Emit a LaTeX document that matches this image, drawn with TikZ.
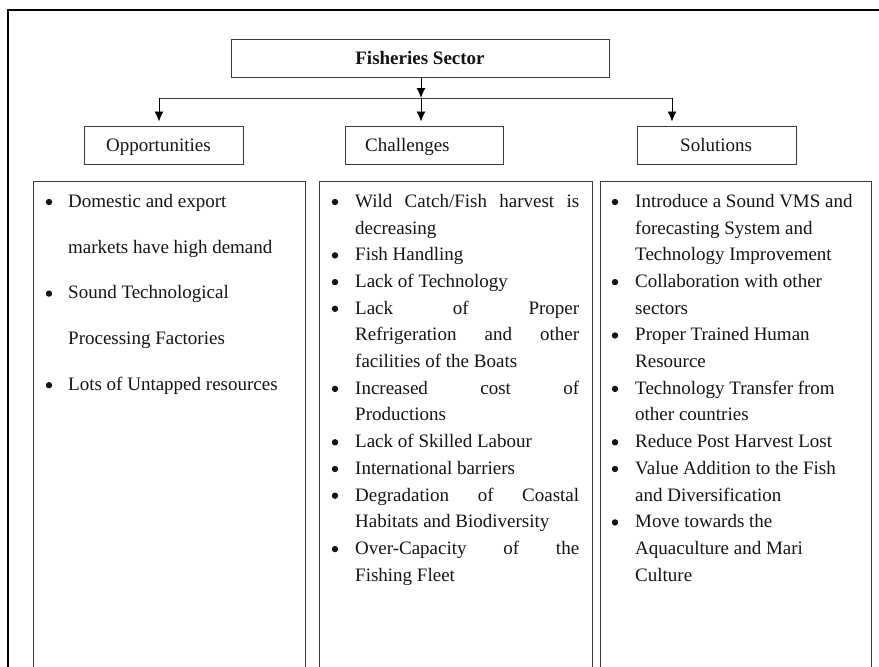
\documentclass[tikz,border=0pt]{standalone}
\usepackage{fontspec}
\setmainfont{Liberation Serif}
\usetikzlibrary{arrows.meta}
\definecolor{boxgray}{RGB}{60,60,60}
\definecolor{ink}{RGB}{20,20,20}
\begin{document}
\begin{tikzpicture}[x=1pt,y=-1pt]
\tikzset{
  frame/.style={line width=2pt, draw=black},
  hbox/.style={draw=boxgray, line width=1pt, inner sep=0pt},
  txt/.style={anchor=base west, inner sep=0pt, font=\fontsize{19}{23}\selectfont, text=ink},
  bul/.style={circle, fill=ink, inner sep=0pt, minimum size=6.4pt},
  arr/.style={-{Latex[length=10pt,width=9pt]}, line width=0.9pt, draw=black}
}
\useasboundingbox (0,0) rectangle (879,667);
\clip (0,0) rectangle (879,667);
% outer frame
\draw[frame] (8,700) -- (8,10) -- (900,10);
% title
\node[hbox, minimum width=378pt, minimum height=38pt, font=\fontsize{19}{23}\selectfont\bfseries, text=ink] (title) at (420,58) {Fisheries Sector};
% category boxes
\node[hbox, minimum width=159pt, minimum height=38pt] (opp) at (163.5,145) {};
\node[hbox, minimum width=158pt, minimum height=38pt] (chal) at (424,145) {};
\node[hbox, minimum width=159pt, minimum height=38pt] (sol) at (716.5,145) {};
\node[txt] (oppl) at (106,151) {Opportunities};
\node[txt] (chall) at (365,151) {Challenges};
\node[txt] (soll) at (680,151) {Solutions};
% connectors
\coordinate (jm) at (421,98);
\coordinate (ja) at (159,98);
\coordinate (jc) at (672,98);
\draw[arr] (title.south -| jm) -- (jm);
\draw[line width=0.9pt, boxgray] (ja) -- (jc);
\draw[arr, shorten >=4pt] (ja) -- (ja |- opp.north);
\draw[arr, shorten >=4pt] (jm) -- (jm |- chal.north);
\draw[arr, shorten >=4pt] (jc) -- (jc |- sol.north);
% content boxes
\node[hbox, anchor=north west, minimum width=272pt, minimum height=540pt] (oppbox) at (33,181) {};
\node[hbox, anchor=north west, minimum width=273pt, minimum height=540pt] (chalbox) at (319,181) {};
\node[hbox, anchor=north west, minimum width=271pt, minimum height=540pt] (solbox) at (600,181) {};
% Opportunities text
\node[txt] (o1) at (68,207.3) {Domestic and export};
\node[txt] (o2) at (68,253.1) {markets have high demand};
\node[txt] (o3) at (68,298.9) {Sound Technological};
\node[txt] (o4) at (68,344.7) {Processing Factories};
\node[txt] (o5) at (68,390.5) {Lots of Untapped resources};
\node[bul] (ob1) at (49,202) {};
\node[bul] (ob2) at (49,293.6) {};
\node[bul] (ob3) at (49,385.2) {};
% Challenges text
\node[txt] (c1) at (355,207.3) {\makebox[224pt][s]{Wild Catch/Fish harvest is}};
\node[txt] (c2) at (355,234.0) {decreasing};
\node[txt] (c3) at (355,260.7) {Fish Handling};
\node[txt] (c4) at (355,287.4) {Lack of Technology};
\node[txt] (c5) at (355,314.1) {\makebox[224pt][s]{Lack of Proper}};
\node[txt] (c6) at (355,340.8) {\makebox[224pt][s]{Refrigeration and other}};
\node[txt] (c7) at (355,367.5) {facilities of the Boats};
\node[txt] (c8) at (355,394.2) {\makebox[224pt][s]{Increased cost of}};
\node[txt] (c9) at (355,420.9) {Productions};
\node[txt] (c10) at (355,447.6) {Lack of Skilled Labour};
\node[txt] (c11) at (355,474.3) {International barriers};
\node[txt] (c12) at (355,501.0) {\makebox[224pt][s]{Degradation of Coastal}};
\node[txt] (c13) at (355,527.7) {Habitats and Biodiversity};
\node[txt] (c14) at (355,554.4) {\makebox[224pt][s]{Over-Capacity of the}};
\node[txt] (c15) at (355,581.1) {Fishing Fleet};
\foreach \yy/\nm in {207.3/1,260.7/3,287.4/4,314.1/5,394.2/8,447.6/10,474.3/11,501.0/12,554.4/14}
  \node[bul] (cb\nm) at (335,\yy-5.3) {};
% Solutions text
\node[txt] (s1) at (635,207.3) {Introduce a Sound VMS and};
\node[txt] (s2) at (635,234.0) {forecasting System and};
\node[txt] (s3) at (635,260.7) {Technology Improvement};
\node[txt] (s4) at (635,287.4) {Collaboration with other};
\node[txt] (s5) at (635,314.1) {sectors};
\node[txt] (s6) at (635,340.8) {Proper Trained Human};
\node[txt] (s7) at (635,367.5) {Resource};
\node[txt] (s8) at (635,394.2) {Technology Transfer from};
\node[txt] (s9) at (635,420.9) {other countries};
\node[txt] (s10) at (635,447.6) {Reduce Post Harvest Lost};
\node[txt] (s11) at (635,474.3) {Value Addition to the Fish};
\node[txt] (s12) at (635,501.0) {and Diversification};
\node[txt] (s13) at (635,527.7) {Move towards the};
\node[txt] (s14) at (635,554.4) {Aquaculture and Mari};
\node[txt] (s15) at (635,581.1) {Culture};
\foreach \yy/\nm in {207.3/1,287.4/4,340.8/6,394.2/8,447.6/10,474.3/11,527.7/13}
  \node[bul] (sb\nm) at (615,\yy-5.3) {};
\end{tikzpicture}
\end{document}
